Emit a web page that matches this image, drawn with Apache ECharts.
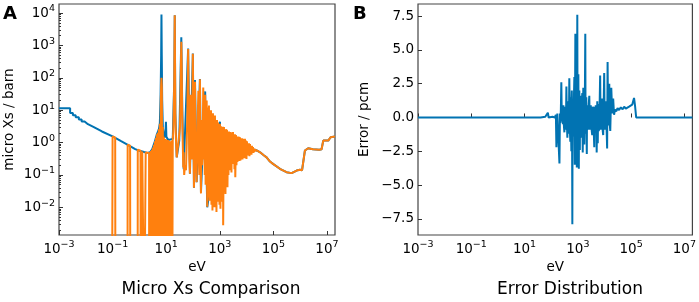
<!DOCTYPE html>
<html>
<head>
<meta charset="utf-8">
<script src="https://cdn.jsdelivr.net/npm/echarts@6/dist/echarts.min.js"></script>
<style>
html, body { margin: 0; padding: 0; background: #fff; }
#chart { width: 699px; height: 302px; }
</style>
</head>
<body>
<div id="chart"></div>
<script>
// zero xs stand-in (log axis can not show 0, it is clipped below the axis)
var Z = 1e-6;

// tick values
var eTicks = [1e-3, 1e-1, 1e1, 1e3, 1e5, 1e7];
var xsTicks = [1e-2, 1e-1, 1, 1e1, 1e2, 1e3, 1e4];
var errTicks = [-7.5, -5, -2.5, 0, 2.5, 5, 7.5];

// reference micro xs [eV, barn] below 2e4 eV
var refXs = [
    [1e-3, 11.5], [2.6e-3, 11.5], [2.6e-3, 8.2], [3.3e-3, 8.2], [3.3e-3, 7.0], [4.2e-3, 7.0],
    [4.2e-3, 6.0], [5.5e-3, 6.0], [5.5e-3, 5.2], [7e-3, 5.2], [7e-3, 4.5], [9e-3, 4.5],
    [9e-3, 4.0], [1.2e-2, 3.7], [2e-2, 3.0], [4e-2, 2.2], [0.1, 1.55], [0.2, 1.12],
    [0.4, 0.82], [0.7, 0.63], [1, 0.56], [1.5, 0.51], [2, 0.48], [2.5, 0.5], [3, 0.62],
    [3.8, 1.1], [4.5, 1.8], [5.34, 2.6], [5.81, 4], [6.2, 30], [6.5, 500], [6.67, 9000],
    [6.85, 500], [7.1, 20], [7.5, 3], [8.5, 1.4], [9.4, 2], [9.8, 4.4], [10.2, 1.5],
    [12, 1.2], [17.6, 1.3], [20, 80], [20.9, 8500], [22, 8], [24.8, 0.35], [30.8, 1.15],
    [36.7, 1800], [40, 10], [45, 0.15], [66, 800], [77, 0.11], [99, 560], [109, 0.04],
    [119, 85], [137, 0.06], [182, 92], [199, 0.03], [285, 38], [340, 0.01], [1017, 4.4],
    [1100, 0.02], [1500, 0.5], [20560, 0.6]
];

// calculated micro xs [eV, barn] below 2e4 eV
var calcXs = [
    [0.095, Z], [0.1, 1.55], [0.125, 1.42], [0.128, Z],
    [0.36, Z], [0.365, 0.86], [0.45, 0.8], [0.46, Z],
    [0.86, Z], [0.87, 0.6], [1.1, 0.56], [1.12, Z],
    [1.27, Z], [1.28, 0.53], [1.5, 0.51], [1.52, Z],
    [1.7, Z], [1.72, 0.49], [2.3, 0.48], [2.32, Z],
    [2.45, Z], [2.49, 0.5], [2.6, Z], [2.71, 0.55], [2.83, Z], [2.95, 0.6], [3.08, Z],
    [3.21, 0.7], [3.35, Z], [3.5, 0.85], [3.65, Z], [3.8, 1.1], [3.97, Z], [4.14, 1.4],
    [4.32, Z], [4.51, 1.8], [4.7, Z], [4.9, 2.0], [5.12, Z], [5.34, 2.6], [5.57, Z],
    [5.81, 3.8], [6.06, Z], [6.33, 20], [6.5, 60], [6.67, 100], [6.9, 50], [7.2, Z],
    [7.5, 3], [7.85, Z], [8.18, 1.5], [8.54, Z], [8.9, 1.3], [9.3, Z], [9.7, 1.3],
    [10.1, Z], [10.55, 1.2], [11.0, Z], [11.5, 1.2], [12.0, Z], [12.5, 1.15], [13.0, Z],
    [13.6, 1.1], [14.2, Z], [14.8, 1.1], [15.5, Z], [16.1, 1.15], [16.8, Z], [17.6, 1.3],
    [18.3, 2], [19.1, 8], [20, 80], [20.9, 8500], [21.4, 300], [22, 8], [23, 1.5],
    [24.8, 0.35], [26.5, 0.6], [28.8, 1.0], [30.8, 1.15], [32.7, 3], [34.2, 20], [35.7, 300],
    [36.7, 1300], [38, 200], [39.5, 10], [41.5, 1], [43.4, 0.17], [45, 0.5], [47, 0.1],
    [50.3, 0.2], [54.8, 0.14], [58.5, 1], [62, 10], [66, 780], [69, 15], [73, 0.3],
    [77, 0.11], [82, 30], [85.5, 0.5], [90, 0.3], [99, 550], [104, 3], [109, 0.04],
    [115, 0.5], [119, 75], [124, 1], [137, 0.06], [145, 1.5], [159, 40], [165, 0.3],
    [173, 0.1], [182, 90], [190, 0.5], [199, 0.027], [207, 5], [218, 0.2], [230, 1],
    [242, 50], [252, 0.3], [264, 2], [276, 0.1], [285, 30], [296, 0.05], [313, 3],
    [325, 20], [340, 0.0104], [355, 8], [371, 12], [387, 0.02],
    [395, 14], [413, 0.016], [431, 6], [450, 0.05], [470, 10], [490, 0.012], [512, 4],
    [534, 0.008], [557, 8], [582, 0.03], [608, 5], [634, 0.01], [662, 6.8], [691, 0.02],
    [721, 3.5], [753, 0.0072], [787, 5], [821, 0.015], [857, 4.2], [894, 0.04], [933, 2.5],
    [974, 0.012], [1017, 3.8], [1062, 0.009], [1109, 3.2], [1157, 0.03], [1208, 2.4],
    [1261, 0.015], [1316, 3.1], [1340, 0.0028], [1400, 0.5], [1435, 3], [1498, 0.03],
    [1563, 2.2], [1632, 0.026], [1703, 2.6], [1778, 0.08], [1857, 2.5], [1938, 0.042],
    [2023, 1.6], [2112, 0.1], [2204, 2.2], [2300, 0.2], [2404, 2.1], [2508, 0.14],
    [2618, 1.5], [2732, 0.12], [2851, 2.1], [2978, 0.3], [3112, 2.1], [3247, 0.22],
    [3388, 1.4], [3536, 0.15], [3690, 1.8], [3800, 0.085], [3950, 0.6], [4018, 1.7],
    [4198, 0.2], [4385, 1.2], [4575, 0.25], [4775, 1.55], [4983, 0.4], [5200, 1.5],
    [5432, 0.27], [5675, 1.45], [5922, 0.28], [6180, 1.1], [6449, 0.4], [6730, 1.35],
    [7031, 0.3], [7345, 1.3], [7665, 0.35], [8000, 1.0], [8350, 0.33], [8710, 1.3],
    [9097, 0.45], [9506, 1.15], [9918, 0.31], [10350, 1.1], [10800, 0.4], [11270, 0.85],
    [11770, 0.4], [12300, 0.95], [12840, 0.38], [13400, 0.9], [13980, 0.45], [14590, 0.8],
    [15230, 0.42], [15890, 0.8], [16600, 0.5], [17340, 0.72], [18090, 0.48], [18880, 0.65],
    [19700, 0.52], [20560, 0.6]
];

// fast range, both curves agree
var fastXs = [
    [25000, 0.56], [32000, 0.5], [45000, 0.4], [56000, 0.35], [75000, 0.26], [97000, 0.22],
    [1.76e5, 0.155], [3.1e5, 0.122], [4.8e5, 0.114], [7.4e5, 0.137], [9.8e5, 0.145],
    [1.18e6, 0.14], [1.24e6, 0.128], [1.4e6, 0.135], [1.51e6, 0.57], [2.0e6, 0.67],
    [3.0e6, 0.62], [5.2e6, 0.6], [6.3e6, 0.62], [7.3e6, 1.15], [1.12e7, 1.15],
    [1.37e7, 1.46], [2e7, 1.53]
];

// error distribution [eV, pcm]
var errPcm = [
    [1e-3, 0], [40, 0], [60, 0.05], [75, 0.35], [80, 0], [112, 0.05], [137, 0], [150, 0.2],
    [157, -2.2], [170, 0.3], [204, -3.4], [213, 0.3], [222, -0.4], [231, 0.6], [240, 2.6],
    [251, -0.3], [262, 0.5], [274, -0.5], [287, 0.9], [300, -0.6], [313, -1.1], [327, 0.8],
    [341, 0.7], [356, -0.9], [372, 2.3], [388, -0.4], [405, -1.5], [422, 1.0], [440, 1.2],
    [459, -1.2], [479, 2.9], [500, -0.8], [522, -1.8], [533, 1.1], [545, 1.5], [558, -1.3],
    [571, -2.5], [583, 1.4], [595, 2.0], [608, -1.0], [622, -7.9], [636, 1.2], [650, 1.0],
    [665, -1.4], [680, -1.0], [710, 1.3], [741, 3.0], [755, -1.2], [770, -3.5], [788, 1.4],
    [807, 6.2], [823, -1.0], [840, -1.5], [860, 1.3], [879, 2.5], [897, -1.1], [915, -3.7],
    [935, 1.2], [955, 7.6], [977, -1.3], [1000, -2.0], [1023, 1.2], [1047, 3.2], [1068, -1.0],
    [1090, -3.8], [1114, 1.3], [1138, 2.0], [1164, -1.2], [1190, -2.4], [1215, 1.1],
    [1240, 1.6], [1295, -1.1], [1349, -1.5], [1410, 1.2], [1470, 1.8], [1500, -1.0],
    [1530, -2.6], [1570, 1.1], [1607, 2.2], [1680, -1.0], [1750, -2.0], [1830, 1.0],
    [1905, 6.2], [1950, -0.9], [1990, -1.2], [2035, 1.1], [2080, 1.5], [2125, -1.1],
    [2170, -2.7], [2220, 0.9], [2265, 1.0], [2365, -0.9], [2470, -1.0], [2580, 1.0],
    [2692, 1.6], [2810, -0.9], [2930, -0.8], [3060, 0.9], [3190, 0.9], [3330, -1.0],
    [3467, -1.3], [3620, 0.8], [3780, 0.6], [3960, -1.0], [4140, -2.2], [4320, 0.8],
    [4500, -0.9], [4700, 0.9], [4898, 0.5], [5100, -2.6], [5370, 1.2], [5600, -1.9],
    [5850, 1.0], [6080, -1.0], [6310, -0.8], [6590, 1.0], [6880, 3.1], [7180, -0.9],
    [7500, -0.5], [7860, 1.1], [8240, 1.4], [8600, -1.0], [8960, -1.3], [9360, 1.0],
    [9770, 3.3], [10200, -0.9], [10650, -0.4], [11120, 1.0], [11600, 1.2], [12090, -1.0],
    [12590, -2.3], [13100, 4.1], [13700, -0.6], [14400, 1.0], [15140, 2.5], [15800, -0.5],
    [16500, -1.0], [18000, 2.2], [19500, 0.3], [21200, 1.4], [22900, 0.2], [25000, 0.6],
    [27540, 0.45], [31000, 0.7], [35480, 0.55], [41000, 0.75], [48000, 0.6], [54950, 0.8],
    [63000, 0.65], [70000, 0.75], [84140, 0.8], [110000, 0.95], [128800, 1.45],
    [140000, 0.9], [154900, 0.0], [1.2e6, 0.0], [1.3e6, 0.12], [1.4e6, 0], [2e7, 0]
];

var FONT = 'DejaVu Sans';
var BLUE = '#0173b2';
var ORANGE = '#ff800e';

// minor log ticks 2..9 per decade on the xs axis
var minorXs = [];
for (var k = -3; k <= 4; k++) {
    for (var m = 2; m <= 9; m++) minorXs.push(m * Math.pow(10, k));
}

function powLabel(v) {
    var e = Math.round(Math.log10(v));
    return '{b|10}{s|' + String(e).replace('-', '\u2212') + '}';
}
var powRich = {
    b: { fontFamily: FONT, fontSize: 13.5, color: '#000' },
    s: { fontFamily: FONT, fontSize: 9.5, color: '#000', padding: [0, 0, 8, 0] }
};
var tickStyle = { color: '#333', width: 1 };
var nameStyle = { fontFamily: FONT, fontSize: 13.5, color: '#000' };

function eAxis(gi) {
    return {
        gridIndex: gi, type: 'log', logBase: 10, min: 1e-3, max: 2e7,
        axisLine: { show: false }, splitLine: { show: false },
        axisTick: { inside: true, length: 4, customValues: eTicks, lineStyle: tickStyle },
        axisLabel: { customValues: eTicks, formatter: powLabel, rich: powRich, margin: 5 },
        name: 'eV', nameLocation: 'middle', nameGap: 24, nameTextStyle: nameStyle
    };
}

var myChart = echarts.init(document.getElementById('chart'), null, { renderer: 'canvas' });

var option = {
    animation: false,
    backgroundColor: '#fff',
    grid: [
        { left: 59, top: 4, width: 276, height: 231, show: true, borderColor: '#444', borderWidth: 1.2 },
        { left: 418, top: 4, width: 275, height: 231, show: true, borderColor: '#444', borderWidth: 1.2 }
    ],
    xAxis: [eAxis(0), eAxis(1)],
    yAxis: [
        {
            gridIndex: 0, type: 'log', logBase: 10, min: 1.4e-3, max: 1.9e4,
            axisLine: { show: false }, splitLine: { show: false },
            axisTick: { inside: true, length: 4, customValues: xsTicks, lineStyle: tickStyle },
            axisLabel: { customValues: xsTicks, formatter: powLabel, rich: powRich, margin: 4 },
            name: 'micro Xs / barn', nameLocation: 'middle', nameGap: 43, nameTextStyle: nameStyle
        },
        {
            gridIndex: 0, type: 'log', logBase: 10, min: 1.4e-3, max: 1.9e4, position: 'left',
            axisLine: { show: false }, splitLine: { show: false }, axisLabel: { show: false },
            axisTick: { inside: true, length: 2, customValues: minorXs, lineStyle: tickStyle }
        },
        {
            gridIndex: 1, type: 'value', min: -8.7, max: 8.4,
            axisLine: { show: false }, splitLine: { show: false },
            axisTick: { inside: true, length: 4, customValues: errTicks, lineStyle: tickStyle },
            axisLabel: {
                customValues: errTicks, margin: 4, fontFamily: FONT, fontSize: 13.5, color: '#000',
                formatter: function (v) { return v.toFixed(1).replace('-', '\u2212'); }
            },
            name: 'Error / pcm', nameLocation: 'middle', nameGap: 47, nameTextStyle: nameStyle
        }
    ],
    series: [
        {
            type: 'line', xAxisIndex: 0, yAxisIndex: 0, data: refXs.concat(fastXs),
            showSymbol: false, lineStyle: { color: BLUE, width: 2 }, clip: true
        },
        {
            type: 'line', xAxisIndex: 0, yAxisIndex: 0, data: calcXs.concat(fastXs),
            showSymbol: false, lineStyle: { color: ORANGE, width: 2 }, clip: true
        },
        {
            type: 'line', xAxisIndex: 1, yAxisIndex: 2, data: errPcm,
            showSymbol: false, lineStyle: { color: BLUE, width: 2 }, clip: true
        }
    ],
    graphic: [
        { type: 'text', left: 3, top: 5, style: { text: 'A', font: 'bold 18px "DejaVu Sans"', fill: '#000' } },
        { type: 'text', left: 353, top: 5, style: { text: 'B', font: 'bold 18px "DejaVu Sans"', fill: '#000' } },
        { type: 'text', x: 211, y: 290, style: { text: 'Micro Xs Comparison', font: '17px "DejaVu Sans"', fill: '#000', align: 'center', verticalAlign: 'middle' } },
        { type: 'text', x: 570, y: 290, style: { text: 'Error Distribution', font: '17px "DejaVu Sans"', fill: '#000', align: 'center', verticalAlign: 'middle' } }
    ]
};

myChart.setOption(option);
</script>
</body>
</html>
